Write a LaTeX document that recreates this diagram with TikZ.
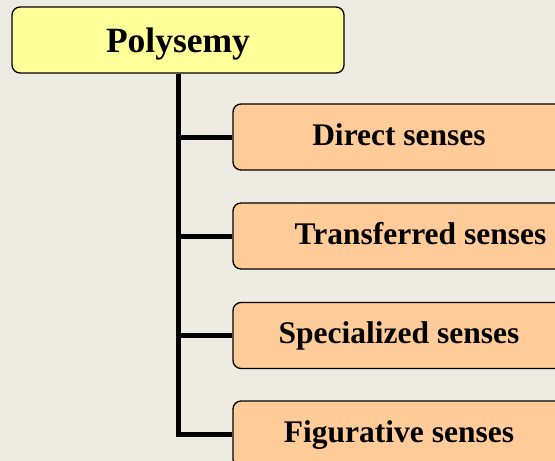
\documentclass[tikz,border=0pt]{standalone}
\usepackage{fontspec}
\setmainfont{Liberation Serif}
\definecolor{bg}{HTML}{EEEBE2}
\definecolor{topfill}{HTML}{FFFF99}
\definecolor{childfill}{HTML}{FFCC99}
\begin{document}
\begin{tikzpicture}[x=1pt,y=-1pt,
  topbox/.style={draw=black, line width=1.3pt, fill=topfill, rounded corners=8pt,
    minimum width=332pt, minimum height=66pt, inner sep=0pt,
    font=\fontsize{35.5}{40}\selectfont\bfseries, text height=24pt, text depth=0pt},
  childbox/.style={draw=black, line width=1.3pt, fill=childfill, rounded corners=8pt,
    minimum width=332pt, minimum height=66pt, inner sep=0pt,
    font=\fontsize{31.5}{36}\selectfont\bfseries, text height=21pt, text depth=5pt},
  conn/.style={line width=5pt, draw=black}]
\clip (0,0) rectangle (555,461);
\fill[bg] (0,0) rectangle (555,461);
\node[topbox] (top) at (178,40) {Polysemy};
\node[childbox] (c1) at (399,137) {Direct senses};
\node[childbox] (c2) at (399,236) {\hspace*{43pt}Transferred senses};
\node[childbox] (c3) at (399,335.5) {Specialized senses};
\node[childbox] (c4) at (399,434) {Figurative senses};
\draw[conn] (top.south) |- (c4.west);
\draw[conn] (top.south |- c1.west) -- (c1.west);
\draw[conn] (top.south |- c2.west) -- (c2.west);
\draw[conn] (top.south |- c3.west) -- (c3.west);
\end{tikzpicture}
\end{document}
